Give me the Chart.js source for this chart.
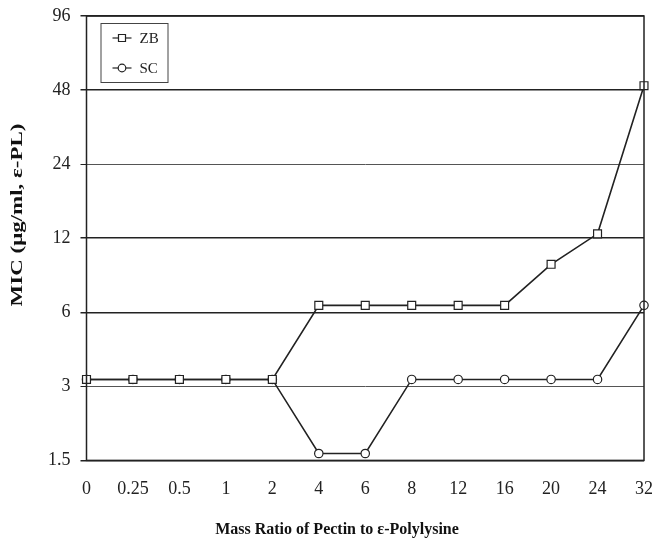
<!DOCTYPE html>
<html>
<head>
<meta charset="utf-8">
<script src="https://cdn.jsdelivr.net/npm/chart.js@4/dist/chart.umd.min.js"></script>
<style>
  html, body { margin: 0; padding: 0; background: #fff; }
  #wrap { width: 656px; height: 552px; position: relative; }
</style>
</head>
<body>
<div id="wrap"><canvas id="mic_chart"></canvas></div>
<script>
// categories (mass ratio of pectin to e-PL)
const ratio_labels = ['0', '0.25', '0.5', '1', '2', '4', '6', '8', '12', '16', '20', '24', '32'];
// MIC values
const zb_values = [3.2, 3.2, 3.2, 3.2, 3.2, 6.4, 6.4, 6.4, 6.4, 6.4, 9.4, 12.5, 50];
const sc_values = [3.2, 3.2, 3.2, 3.2, 3.2, 1.6, 1.6, 3.2, 3.2, 3.2, 3.2, 3.2, 6.4];
// y tick labels
const mic_ticks = [1.5, 3, 6, 12, 24, 48, 96];
const series_names = ['ZB', 'SC'];
const x_title = 'Mass Ratio of Pectin to ε-Polylysine';
const y_title = 'MIC (μg/ml, ε-PL)';

const serif = "'Liberation Serif', 'DejaVu Serif', serif";

// frame around the plot area, boxed legend and the two axis titles
const framePlugin = {
	id: 'frame',
	afterDatasetsDraw(chart) {
		const ctx = chart.ctx;
		const a = chart.chartArea;
		ctx.save();
		ctx.strokeStyle = '#222';
		ctx.lineWidth = 1.5;
		ctx.strokeRect(a.left, a.top, a.right - a.left, a.bottom - a.top);

		// legend box
		const bx = a.left + 14, by = a.top + 7, bw = 67, bh = 59;
		ctx.fillStyle = '#fff';
		ctx.fillRect(bx, by, bw, bh);
		ctx.lineWidth = 1;
		ctx.strokeStyle = '#444';
		ctx.strokeRect(bx + 0.5, by + 0.5, bw, bh);

		chart.data.datasets.forEach(function(ds, i) {
			const y = by + 15 + i * 30;
			const x0 = bx + 12, x1 = bx + 31;
			const xm = (x0 + x1) / 2;
			ctx.strokeStyle = '#222';
			ctx.lineWidth = 1.2;
			ctx.beginPath();
			ctx.moveTo(x0, y);
			ctx.lineTo(x1, y);
			ctx.stroke();
			ctx.fillStyle = '#fff';
			ctx.beginPath();
			if (ds.pointStyle === 'rect') {
				ctx.rect(xm - 3.5, y - 3.5, 7, 7);
			} else {
				ctx.arc(xm, y, 3.8, 0, Math.PI * 2);
			}
			ctx.fill();
			ctx.stroke();
			ctx.fillStyle = '#222';
			ctx.font = '15px ' + serif;
			ctx.textBaseline = 'middle';
			ctx.fillText(ds.label, bx + 39, y + 1);
		});

		// axis titles
		ctx.fillStyle = '#111';
		ctx.textAlign = 'center';
		ctx.textBaseline = 'middle';
		ctx.font = 'bold 16px ' + serif;
		ctx.fillText(x_title, 337, 530);

		ctx.translate(18, 215);
		ctx.rotate(-Math.PI / 2);
		ctx.scale(1.35, 1);
		ctx.font = 'bold 17px ' + serif;
		ctx.fillText(y_title, 0, 0);
		ctx.restore();
	}
};

function createMicChart() {
	const ctx = document.getElementById('mic_chart').getContext('2d');
	const mic_chart = new Chart(ctx, {
		type: 'line',
		data: {
			labels: ratio_labels,
			datasets: [{
				label: series_names[0],
				data: zb_values,
				borderColor: '#222',
				borderWidth: 1.6,
				pointStyle: 'rect',
				pointRadius: 5.6,
				pointBackgroundColor: '#fff',
				pointBorderColor: '#222',
				pointBorderWidth: 1.2,
				tension: 0
			}, {
				label: series_names[1],
				data: sc_values,
				borderColor: '#222',
				borderWidth: 1.6,
				pointStyle: 'circle',
				pointRadius: 4.2,
				pointBackgroundColor: '#fff',
				pointBorderColor: '#222',
				pointBorderWidth: 1.2,
				tension: 0
			}]
		},
		options: {
			responsive: false,
			animation: false,
			layout: {
				padding: { top: 16, right: 12, left: 38, bottom: 40 }
			},
			scales: {
				x: {
					offset: false,
					afterFit: function(scale) {
						scale.paddingLeft = 0;
						scale.paddingRight = 0;
					},
					grid: {
						display: false,
						drawOnChartArea: false,
						drawTicks: true,
						tickLength: 6,
						tickColor: '#222'
					},
					border: { display: false },
					ticks: {
						color: '#222',
						font: { family: serif, size: 18 },
						padding: 12,
						maxRotation: 0,
						autoSkip: false
					}
				},
				y: {
					type: 'logarithmic',
					min: 1.5,
					max: 96,
					afterBuildTicks: function(axis) {
						axis.ticks = mic_ticks.map(function(v) { return { value: v }; });
					},
					afterFit: function(scale) {
						scale.paddingTop = 0;
						scale.paddingBottom = 0;
					},
					grid: {
						color: function(c) {
							const v = c.tick ? c.tick.value : 0;
							return (v === 24 || v === 3) ? '#555' : '#222';
						},
						lineWidth: function(c) {
							const v = c.tick ? c.tick.value : 0;
							return (v === 24 || v === 3) ? 1 : 1.5;
						},
						tickLength: 6,
						tickColor: '#222'
					},
					border: { display: false },
					ticks: {
						color: '#222',
						font: { family: serif, size: 18 },
						padding: 10,
						callback: function(value) { return String(value); }
					}
				}
			},
			plugins: {
				legend: { display: false },
				tooltip: { enabled: false }
			},
			maintainAspectRatio: false
		},
		plugins: [framePlugin]
	});
}

document.getElementById('mic_chart').width = 656;
document.getElementById('mic_chart').height = 552;
createMicChart();
</script>
</body>
</html>
